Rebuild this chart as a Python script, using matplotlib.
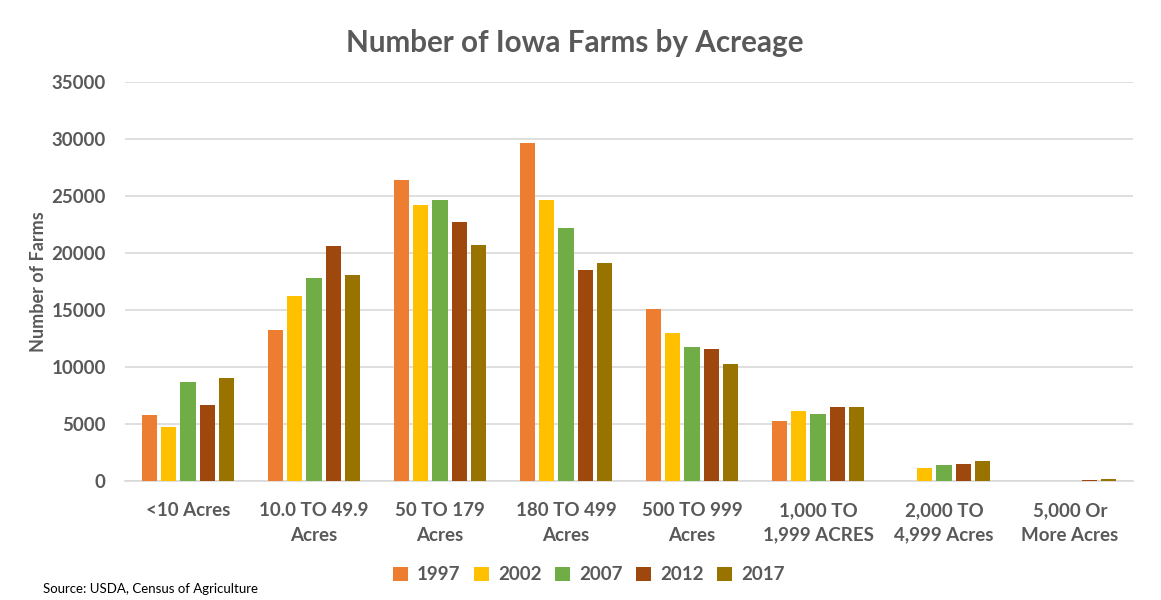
import matplotlib.pyplot as plt
import numpy as np

plt.rcParams['font.family'] = ['Lato', 'DejaVu Sans']

# Acreage categories and farm counts per census year
categories = ["<10 Acres", "10.0 TO 49.9\nAcres", "50 TO 179\nAcres", "180 TO 499\nAcres",
              "500 TO 999\nAcres", "1,000 TO\n1,999 ACRES", "2,000 TO\n4,999 Acres", "5,000 Or\nMore Acres"]
years = ["1997", "2002", "2007", "2012", "2017"]
farms_1997 = [5800, 13300, 26450, 29700, 15100, 5300, 0, 0]
farms_2002 = [4750, 16250, 24200, 24650, 13000, 6150, 1200, 0]
farms_2007 = [8700, 17800, 24650, 22200, 11750, 5900, 1450, 0]
farms_2012 = [6700, 20600, 22750, 18550, 11600, 6550, 1500, 100]
farms_2017 = [9050, 18100, 20750, 19150, 10300, 6500, 1730, 150]
colors = ["#ED7D31", "#FFC000", "#70AD47", "#9E480E", "#997300"]

series = [farms_1997, farms_2002, farms_2007, farms_2012, farms_2017]

fig = plt.figure(figsize=(11.61, 6), dpi=100)
ax = fig.add_axes([0.1077, 0.198, 0.8682, 0.665])

x = np.arange(len(categories))
slot = 0.153
for i, (vals, col, yr) in enumerate(zip(series, colors, years)):
    ax.bar(x + (i - 2) * slot, vals, width=slot * 0.8, color=col, label=yr, zorder=3)

ax.set_xlim(-0.5, len(categories) - 0.5)
ax.set_ylim(0, 35000)
ax.set_yticks(range(0, 35001, 5000))
ax.grid(axis="y", color="#D9D9D9", linewidth=1.2, zorder=0)
for s in ["top", "right", "left"]:
    ax.spines[s].set_visible(False)
ax.spines["bottom"].set_color("#D9D9D9")
ax.spines["bottom"].set_linewidth(1.2)
ax.tick_params(axis="both", length=0, labelsize=13.5, labelcolor="#595959")
ax.tick_params(axis="y", pad=14)
ax.tick_params(axis="x", pad=15)
ax.set_xticks(x)
ax.set_xticklabels(categories, fontweight="bold", linespacing=1.55)
for lab in ax.get_yticklabels():
    lab.set_fontweight("bold")

ax.set_ylabel("Number of Farms", fontsize=13, fontweight="bold", color="#595959", labelpad=3)

fig.text(0.495, 0.928, "Number of Iowa Farms by Acreage", ha="center", va="center",
         fontsize=21.3, fontweight="bold", color="#595959")

leg = fig.legend(loc="center", bbox_to_anchor=(0.507, 0.042), ncol=5, frameon=False,
                 handlelength=0.8, handleheight=0.8, handletextpad=0.5, columnspacing=0.7,
                 prop={"size": 13.5, "weight": "bold"})
for t in leg.get_texts():
    t.set_color("#595959")

fig.text(0.037, 0.012, "Source: USDA, Census of Agriculture", fontsize=9.5, color="black")

fig.savefig("out.png", dpi=100)
